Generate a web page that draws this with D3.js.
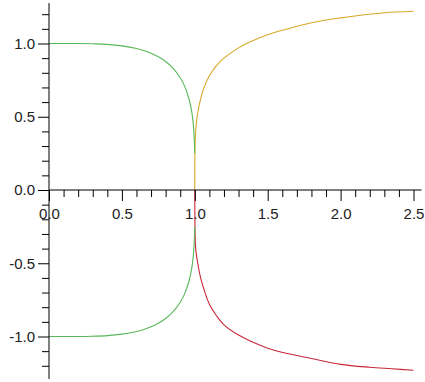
<!DOCTYPE html>
<html>
<head>
<meta charset="utf-8">
<script src="https://cdn.jsdelivr.net/npm/d3@7"></script>
<style>
  html, body { margin: 0; padding: 0; background: #fff; }
  svg { display: block; }
  .axis text { font-family: "Liberation Sans", Arial, sans-serif; font-size: 15px; fill: #222; }
</style>
</head>
<body>
<svg id="chart" width="425" height="382"></svg>
<script>
// ---- data ----
const greenUpperX = [0, 0.1, 0.2, 0.3, 0.4, 0.5, 0.6, 0.65, 0.7, 0.75, 0.8, 0.85, 0.9, 0.93, 0.96, 0.98, 0.99, 0.997, 1.0];
const greenUpperY = [1, 1, 1, 0.998, 0.994, 0.984, 0.966, 0.952, 0.934, 0.909, 0.877, 0.832, 0.766, 0.709, 0.623, 0.528, 0.446, 0.33, 0.25];
const greenLowerX = [0, 0.1, 0.2, 0.3, 0.4, 0.5, 0.6, 0.65, 0.7, 0.75, 0.8, 0.85, 0.9, 0.93, 0.96, 0.98, 0.99, 0.997, 1.0];
const greenLowerY = [-1, -1, -1, -0.998, -0.994, -0.984, -0.966, -0.952, -0.934, -0.909, -0.877, -0.832, -0.766, -0.709, -0.623, -0.528, -0.446, -0.33, -0.25];
const yellowX = [1.0, 1.002, 1.01, 1.03, 1.06, 1.1, 1.15, 1.2, 1.3, 1.4, 1.5, 1.6, 1.75, 1.9, 2.0, 2.15, 2.3, 2.5];
const yellowY = [0, 0.3, 0.45, 0.58, 0.69, 0.78, 0.85, 0.9, 0.97, 1.02, 1.06, 1.09, 1.13, 1.16, 1.175, 1.195, 1.21, 1.22];
const redX = [1.0, 1.002, 1.006, 1.02, 1.04, 1.07, 1.1, 1.15, 1.2, 1.3, 1.4, 1.5, 1.65, 1.8, 2.0, 2.2, 2.35, 2.5];
const redY = [0, -0.3, -0.4, -0.5, -0.6, -0.7, -0.78, -0.86, -0.92, -0.99, -1.04, -1.08, -1.12, -1.15, -1.19, -1.21, -1.22, -1.23];

const xMajorTicks = [0, 0.5, 1.0, 1.5, 2.0, 2.5];
const xMinorTicks = [0.1,0.2,0.3,0.4,0.6,0.7,0.8,0.9,1.1,1.2,1.3,1.4,1.6,1.7,1.8,1.9,2.1,2.2,2.3,2.4];
const yMajorTicks = [-1.0, -0.5, 0.0, 0.5, 1.0];
const yMinorTicks = [-1.2,-1.1,-0.9,-0.8,-0.7,-0.6,-0.4,-0.3,-0.2,-0.1,0.1,0.2,0.3,0.4,0.6,0.7,0.8,0.9,1.1,1.2];
const xAxisExtent = [0, 2.555];
const yAxisExtent = [-1.29, 1.276];

// ---- scales ----
const x = d3.scaleLinear().domain([0, 2.5]).range([49, 413.5]);
const y = d3.scaleLinear().domain([-1, 1]).range([336.5, 43.5]);

const svg = d3.select("#chart");
const fmt = d => d.toFixed(1);

// ---- curves ----
const line = d3.line().x(d => x(d[0])).y(d => y(d[1])).curve(d3.curveCatmullRom.alpha(0.5));
const zip = (a, b) => a.map((v, i) => [v, b[i]]);

const series = [
  { xs: yellowX, ys: yellowY, color: "#d6a92a" },
  { xs: redX, ys: redY, color: "#c8283a" },
  { xs: greenUpperX, ys: greenUpperY, color: "#58b85a" },
  { xs: greenLowerX, ys: greenLowerY, color: "#58b85a" }
];
svg.selectAll("path.curve").data(series).enter().append("path")
  .attr("class", "curve")
  .attr("fill", "none")
  .attr("stroke", d => d.color)
  .attr("stroke-width", 1.1)
  .attr("d", d => line(zip(d.xs, d.ys)));

// ---- axes ----
const xAxisG = svg.append("g").attr("class", "axis").attr("transform", `translate(0,${y(0)})`);
xAxisG.append("g").call(d3.axisBottom(x).tickValues(xMinorTicks).tickSize(7).tickFormat("").tickSizeOuter(0));
xAxisG.append("g").call(d3.axisBottom(x).tickValues(xMajorTicks).tickSize(11).tickPadding(7).tickFormat(fmt).tickSizeOuter(0));
xAxisG.selectAll(".domain").remove();
xAxisG.append("line").attr("x1", x(xAxisExtent[0])).attr("x2", x(xAxisExtent[1]))
  .attr("y1", 0).attr("y2", 0).attr("stroke", "#000").attr("stroke-width", 1);

const yAxisG = svg.append("g").attr("class", "axis").attr("transform", `translate(${x(0)},0)`);
yAxisG.append("g").call(d3.axisLeft(y).tickValues(yMinorTicks).tickSize(7).tickFormat("").tickSizeOuter(0));
yAxisG.append("g").call(d3.axisLeft(y).tickValues(yMajorTicks).tickSize(11).tickPadding(3).tickFormat(fmt).tickSizeOuter(0));
yAxisG.selectAll(".domain").remove();
yAxisG.append("line").attr("x1", 0).attr("x2", 0)
  .attr("y1", y(yAxisExtent[0])).attr("y2", y(yAxisExtent[1])).attr("stroke", "#000").attr("stroke-width", 1);

svg.selectAll(".tick line").attr("stroke", "#000");
</script>
</body>
</html>
